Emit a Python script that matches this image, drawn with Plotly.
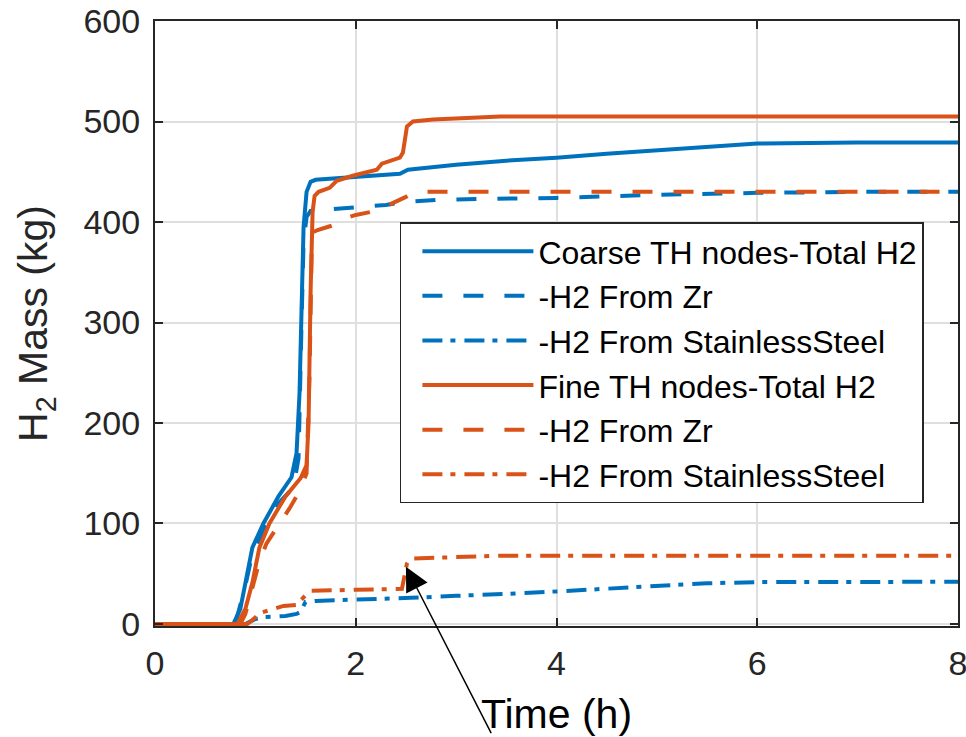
import plotly.graph_objects as go

# ---------------- data ----------------
# Coarse TH nodes - total H2
t_coarse_total = [0, 0.78, 0.85, 0.90, 0.97, 1.08, 1.23, 1.36, 1.41, 1.44, 1.46, 1.48, 1.51, 1.55, 1.60,
                  2.0, 2.44, 2.52, 2.7, 3.0, 3.5, 4.0, 4.5, 5.0, 5.5, 6.0, 7.0, 8.0]
v_coarse_total = [0, 0, 15, 41, 76, 100, 127, 146, 170, 230, 320, 395, 430, 440, 442,
                  445, 448, 452, 454, 457, 461, 464, 468, 471, 475, 478, 479, 479]
# Coarse - H2 from Zr
t_coarse_zr = [0, 0.80, 0.90, 0.97, 1.08, 1.23, 1.38, 1.43, 1.46, 1.48, 1.51, 1.55, 1.67,
               2.0, 2.3, 2.5, 2.8, 3.3, 4.0, 5.0, 6.0, 7.0, 8.0]
v_coarse_zr = [0, 0, 38, 70, 93, 120, 136, 165, 300, 380, 405, 411, 412,
               415, 417, 420, 422, 423, 424, 427, 429, 430, 430]
# Coarse - H2 from stainless steel
t_coarse_ss = [0, 0.90, 1.0, 1.1, 1.3, 1.41, 1.45, 1.50, 1.6, 2.0, 2.4, 2.55, 3.0, 3.24,
               3.5, 4.0, 4.5, 5.0, 5.5, 6.0, 7.0, 8.0]
v_coarse_ss = [0, 0, 5, 7, 8, 10, 12, 22, 23, 24, 25, 26, 28, 28.5,
               30, 32.4, 35, 38, 40.5, 41.7, 42, 42]
# Fine TH nodes - total H2
t_fine_total = [0, 0.82, 0.90, 0.97, 1.04, 1.14, 1.30, 1.45, 1.51, 1.53, 1.55, 1.57, 1.59, 1.63,
                1.74, 1.81, 1.97, 2.10, 2.21, 2.26, 2.44, 2.47, 2.51, 2.57, 2.77, 3.44, 8.0]
v_fine_total = [0, 0, 15, 41, 76, 100, 127, 145, 158, 200, 330, 410, 426, 430,
                434, 441, 446, 449, 452, 458, 464, 469, 495, 500, 502, 505, 505]
# Fine - H2 from Zr
t_fine_zr = [0, 0.85, 0.90, 0.97, 1.04, 1.11, 1.23, 1.34, 1.44, 1.51, 1.54, 1.56, 1.58, 1.62,
             1.75, 1.80, 1.87, 2.0, 2.2, 2.4, 2.5, 2.57, 2.65, 8.0]
v_fine_zr = [0, 0, 10, 35, 62, 80, 98, 115, 132, 150, 250, 370, 390, 392,
             396, 398, 403, 407, 411, 420, 425, 429, 430, 430]
# Fine - H2 from stainless steel
t_fine_ss = [0, 0.92, 0.97, 1.05, 1.15, 1.28, 1.41, 1.47, 1.54, 2.0, 2.46, 2.49, 2.51, 2.54,
             3.0, 3.44, 8.0]
v_fine_ss = [0, 0, 4, 11, 14, 18, 19, 26, 33, 34, 35, 50, 60, 65,
             67, 68, 68]

x_ticks = [0, 2, 4, 6, 8]
y_ticks = [0, 100, 200, 300, 400, 500, 600]

BLUE = "#0072BD"
ORANGE = "#D95319"
DASH = "20px,21px"
DASHDOT = "20px,8px,5px,9px"
LW = 4

series = [
    ("Coarse TH nodes-Total H2", t_coarse_total, v_coarse_total, BLUE, "solid"),
    ("-H2 From Zr", t_coarse_zr, v_coarse_zr, BLUE, DASH),
    ("-H2 From StainlessSteel", t_coarse_ss, v_coarse_ss, BLUE, DASHDOT),
    ("Fine TH nodes-Total H2", t_fine_total, v_fine_total, ORANGE, "solid"),
    ("-H2 From Zr", t_fine_zr, v_fine_zr, ORANGE, DASH),
    ("-H2 From StainlessSteel", t_fine_ss, v_fine_ss, ORANGE, DASHDOT),
]

fig = go.Figure()
for name, t, v, col, dash in series:
    fig.add_trace(go.Scatter(x=t, y=v, mode="lines", name=name,
                             line=dict(color=col, width=LW, dash=dash)))

FONT = "Liberation Sans, Arial, sans-serif"
AX = "#262626"

fig.update_layout(
    width=966, height=737,
    margin=dict(l=155, r=8, t=21, b=111, autoexpand=False),
    plot_bgcolor="white", paper_bgcolor="white",
    font=dict(family=FONT, size=34, color=AX),
    legend=dict(
        x=0.305, y=0.667, xanchor="left", yanchor="top",
        bgcolor="white", bordercolor=AX, borderwidth=1.5,
        font=dict(family=FONT, size=32, color="black"),
        itemwidth=111, indentation=16,
    ),
)
axis_common = dict(
    showgrid=True, gridcolor="#dfdfdf", gridwidth=1.5,
    showline=True, mirror="allticks", linecolor=AX, linewidth=2,
    ticks="inside", ticklen=8, tickwidth=2, tickcolor=AX,
    zeroline=False, tickfont=dict(family=FONT, size=34, color=AX),
    automargin=False, ticklabeloverflow="allow",
)
fig.update_xaxes(range=[0, 8], tickvals=x_ticks, ticklabelstandoff=6, **axis_common,
                 title=dict(text="Time (h)", font=dict(family=FONT, size=41, color="black"), standoff=20))
fig.update_yaxes(range=[-2, 600], tickvals=y_ticks, ticklabelstandoff=6, **axis_common,
                 title=dict(text="H<sub>2</sub> Mass (kg)", font=dict(family=FONT, size=41, color=AX), standoff=23))

fig.add_annotation(x=2.50, y=57, xref="x", yref="y", text="", showarrow=True,
                   ax=86, ay=168, axref="pixel", ayref="pixel",
                   arrowhead=2, arrowsize=3.2, arrowwidth=1.5, arrowcolor="black")

fig.write_html("out.html")
